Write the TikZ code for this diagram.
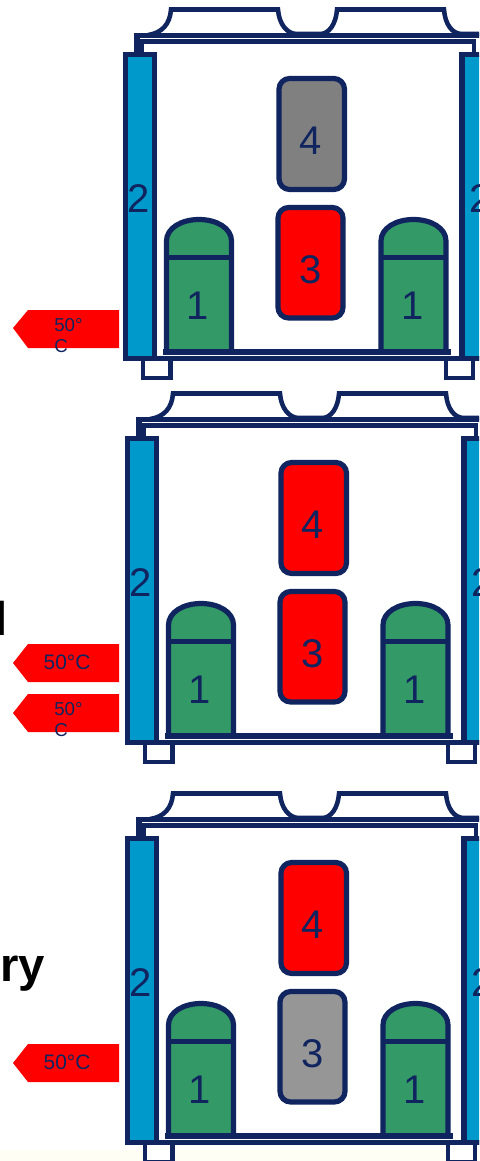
\documentclass[tikz,border=0pt]{standalone}
\usepackage{fontspec}
\setmainfont{Liberation Sans}
\usetikzlibrary{calc, positioning}

\definecolor{navy}{HTML}{10245F}
\definecolor{coilblue}{HTML}{0099CC}
\definecolor{compgreen}{HTML}{339966}
\definecolor{offgrey}{HTML}{808080}
\definecolor{lightgrey}{HTML}{969696}
\definecolor{hotred}{HTML}{FF0000}

\tikzset{
  frame/.style={draw=navy, line width=3.9pt, line join=miter},
  thinframe/.style={draw=navy, line width=3.4pt},
  digit/.style={text=navy, inner sep=0pt, font=\fontsize{30}{30}\selectfont},
  temp/.style={text=navy, inner sep=0pt, align=left, font=\fontsize{14}{15.75}\selectfont},
  tempwide/.style={text=navy, inner sep=0pt, font=\fontsize{15.7}{15.7}\selectfont},
  hotarrow/.style={fill=hotred},
  caption/.style={text=black, inner sep=0pt, font=\fontsize{35.5}{35.5}\selectfont\bfseries}
}

\begin{document}
\begin{tikzpicture}[x=0.75pt, y=-0.75pt]
\clip (0,0) rectangle (479,1161);
\fill[white] (0,0) rectangle (479,1161);
\fill[yellow!4] (0,1150) rectangle (479,1161);

% Three units, only the colours of boxes 3 and 4 change
\foreach \ox/\oy/\colfour/\colthree/\n in {0/0/offgrey/hotred/a, 2/384/hotred/hotred/b, 2/784/hotred/lightgrey/c} {
\begin{scope}[shift={(\ox,\oy)}]
  % Feet
  \draw[thinframe, fill=white] (143,358) -- (143,378) -- (170.5,378) -- (170.5,358);
  \draw[thinframe, fill=white] (446,358) -- (446,378) -- (473,378) -- (473,358);

  % Fan shroud on top
  \draw[thinframe] (148,35) .. controls (162,33) and (170,24) .. (171,9.5) -- (278,9.5)
    .. controls (279,24) and (287,34) .. (297,34) -- (320,34)
    .. controls (329,34) and (336,24) .. (337,9.5) -- (444,9.5)
    .. controls (445,24) and (452,34) .. (462,34) -- (490,34);
  \draw[frame] (137,52) -- (137,35.5) -- (490,35.5);
  \draw[thinframe] (142,52) -- (142,41.5) -- (474,41.5) -- (474,52);

  % Coils
  \draw[frame, fill=coilblue] (125.5,54.5) rectangle (154.5,358.5);
  \draw[frame, fill=coilblue] (462,54.5) rectangle (491,358.5);
  \draw[frame] (125.5,358.5) -- (491,358.5);

  % Compressors
  \foreach \cx/\m in {166.5/l, 381/r} {
    \draw[frame, fill=compgreen] (\cx,352) -- (\cx,241)
      .. controls ($(\cx,228)$) and ($(\cx+15,219.5)$) .. ($(\cx+32.5,219.5)$)
      .. controls ($(\cx+50,219.5)$) and ($(\cx+65,228)$) .. ($(\cx+65,241)$)
      -- ($(\cx+65,352)$) -- cycle;
    \draw[frame] (\cx-2,257.7) -- ($(\cx+67,257.7)$);
    \node[digit] (one\m\n) at ($(\cx+31.5,305.5)$) {1};
  }
  \draw[frame] (163,352) -- (450.7,352);

  % Boxes 3 and 4
  \draw[frame, fill=\colfour, rounded corners=8pt] (279,78.5) rectangle (344.5,189.5);
  \draw[frame, fill=\colthree, rounded corners=8pt] (278,207.5) rectangle (343,318);
  \node[digit] (four\n) at (310.5,140.5) {4};
  \node[digit] (three\n) at (310.5,269.5) {3};

  \node[digit] (twol\n) at (139,198.5) {2};
  \node[digit] (twor\n) at (481,198.5) {2};
\end{scope}
}

% Hot water arrows
\fill[hotarrow] (13,328) -- (28,310) -- (119,310) -- (119,348) -- (28,348) -- cycle;
\fill[hotarrow] (13,663) -- (28,644) -- (119,644) -- (119,682) -- (28,682) -- cycle;
\fill[hotarrow] (13,713) -- (28,694) -- (119,694) -- (119,732) -- (28,732) -- cycle;
\fill[hotarrow] (13,1063) -- (28,1044) -- (119,1044) -- (119,1082) -- (28,1082) -- cycle;
\node[temp, anchor=north west] (tempa) at (54,318) {50°\\C};
\node[tempwide] (tempb) at (67,662) {50°C};
\node[temp, anchor=north west] (tempc) at (54,702) {50°\\C};
\node[tempwide] (tempd) at (67,1062) {50°C};

% Cut off captions
\node[caption, anchor=base east] (captionb) at (7.5,635) {l};
\node[caption, anchor=base east] (captionc) at (45.5,981.7) {ry};
\end{tikzpicture}
\end{document}
